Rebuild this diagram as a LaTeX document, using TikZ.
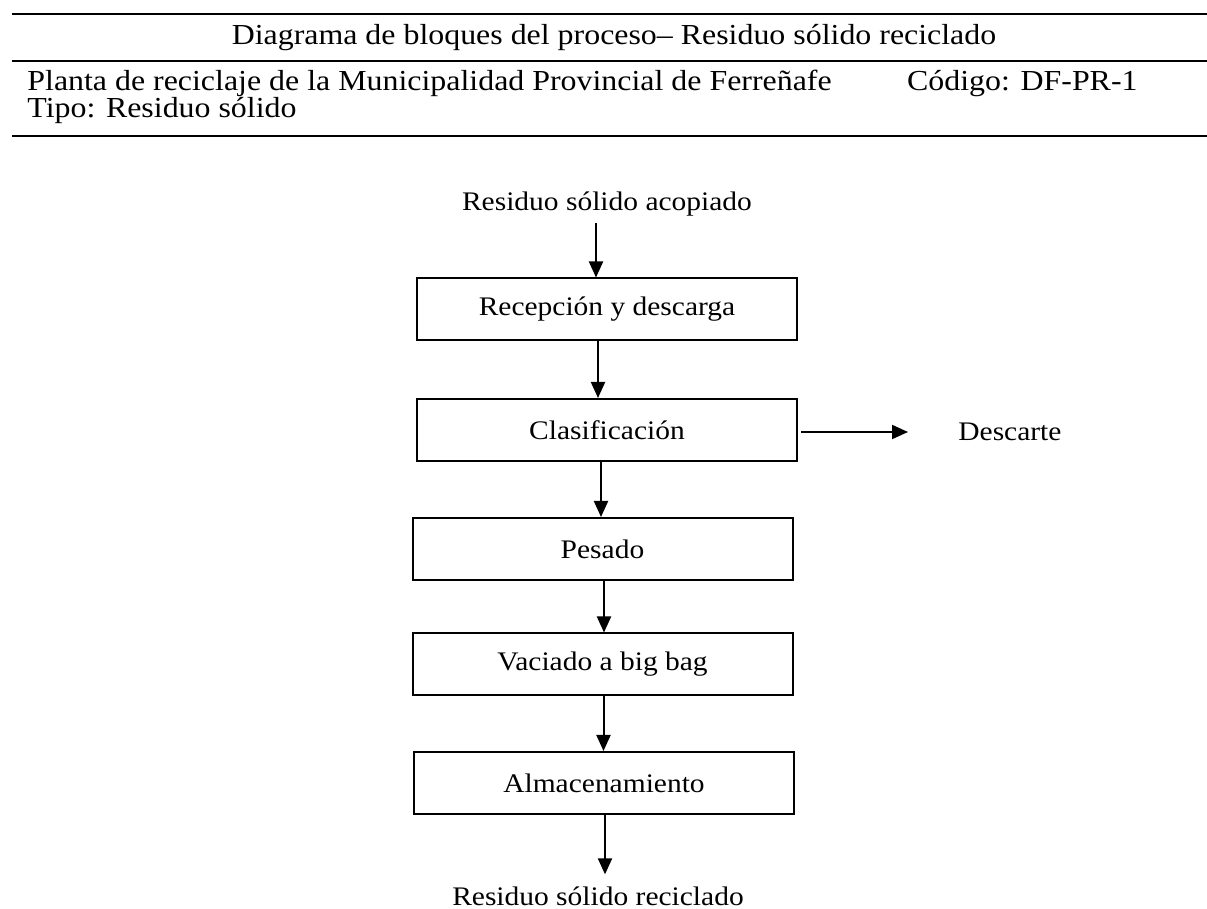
\documentclass[tikz,border=0pt]{standalone}
\usepackage{fontspec}
\setmainfont{Liberation Serif}[FakeStretch=1.1]
\usetikzlibrary{arrows.meta}
\tikzset{
  rulebar/.style={line width=1.3pt},
  headtext/.style={font=\fontsize{14.5pt}{17pt}\selectfont, inner sep=0pt, anchor=base},
  procbox/.style={draw, line width=1pt, minimum width=190pt, minimum height=31pt,
    inner sep=0pt, font=\fontsize{13.4pt}{16pt}\selectfont},
  flowtext/.style={font=\fontsize{13.4pt}{16pt}\selectfont, inner sep=0pt},
  flow/.style={line width=1pt, -{Triangle[length=8pt,width=7pt]}}
}
\begin{document}
\begin{tikzpicture}[x=0.5pt, y=-0.5pt]
  \useasboundingbox (0,0) rectangle (1207,909);

  % header table
  \coordinate (r1a) at (12,14);   \coordinate (r1b) at (1207,14);
  \coordinate (r2a) at (12,61);   \coordinate (r2b) at (1207,61);
  \coordinate (r3a) at (12,136);  \coordinate (r3b) at (1207,136);
  \draw[rulebar] (r1a) -- (r1b);
  \draw[rulebar] (r2a) -- (r2b);
  \draw[rulebar] (r3a) -- (r3b);

  \node[headtext] (title) at (614,45) {Diagrama de bloques del proceso– Residuo sólido reciclado};
  \node[headtext, anchor=base west] (plant) at (27,91) {Planta de reciclaje de la Municipalidad Provincial de Ferreñafe};
  \node[headtext, anchor=base east] (code) at (1138,91) {Código: DF-PR-1};
  \node[headtext, anchor=base west] (kind) at (27,118) {Tipo: Residuo sólido};

  % process blocks
  \node[flowtext, anchor=base, outer sep=3pt] (src) at (607,211) {Residuo sólido acopiado};
  \node[procbox] (b1) at (607,309.5) {Recepción y descarga};
  \node[procbox] (b2) at (607,430) {Clasificación};
  \node[procbox] (b3) at (602.5,549) {Pesado};
  \node[procbox] (b4) at (602.5,664.5) {Vaciado a big bag};
  \node[procbox] (b5) at (604,783) {Almacenamiento};
  \node[flowtext, anchor=base, outer sep=6pt] (dst) at (598,905) {Residuo sólido reciclado};
  \node[flowtext, anchor=base west] (dsc) at (958,441) {Descarte};

  % connectors (vertical runs)
  \draw[flow] ([xshift=-5.5pt]b1.north |- src.south) -- ([xshift=-5.5pt]b1.north);
  \draw[flow] ([xshift=-4.5pt]b1.south) -- ([xshift=-4.5pt]b1.south |- b2.north);
  \draw[flow] ([xshift=-3pt]b2.south) -- ([xshift=-3pt]b2.south |- b3.north);
  \draw[flow] ([xshift=0.75pt]b3.south) -- ([xshift=0.75pt]b3.south |- b4.north);
  \draw[flow] ([xshift=0.5pt]b4.south) -- ([xshift=0.5pt]b4.south |- b5.north);
  \draw[flow] ([xshift=0.5pt]b5.south) -- ([xshift=0.5pt]b5.south |- dst.north);
  \draw[flow] ([xshift=1.5pt,yshift=-1pt]b2.east) -- ([xshift=-25pt,yshift=-1pt]b2.east -| dsc.west);
\end{tikzpicture}
\end{document}
